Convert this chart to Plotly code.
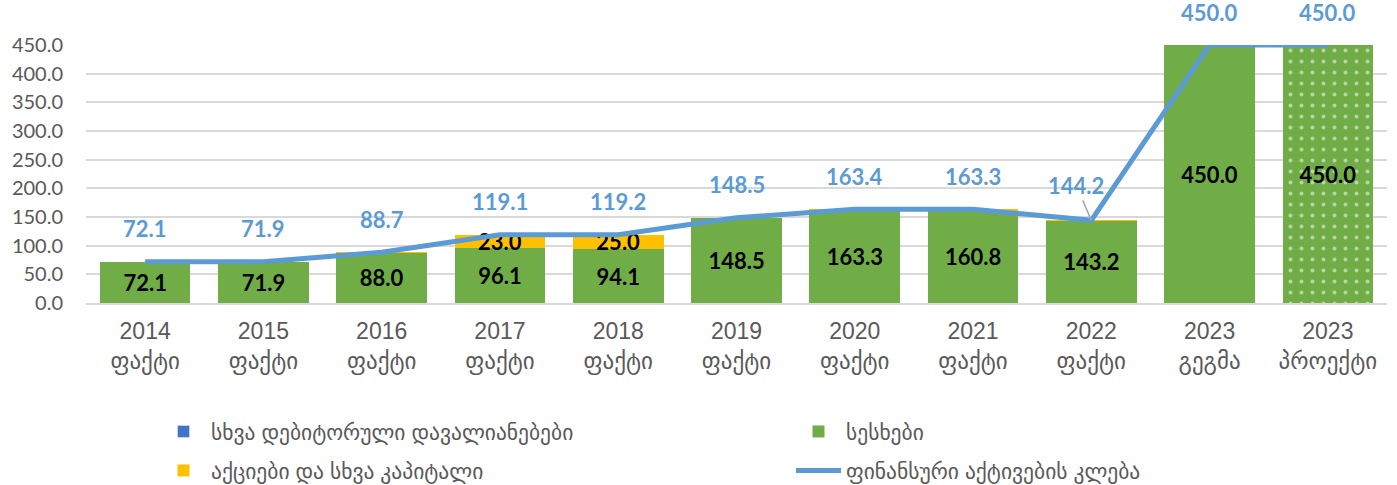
import plotly.graph_objects as go

categories = ["2014<br>ფაქტი", "2015<br>ფაქტი", "2016<br>ფაქტი", "2017<br>ფაქტი", "2018<br>ფაქტი",
              "2019<br>ფაქტი", "2020<br>ფაქტი", "2021<br>ფაქტი", "2022<br>ფაქტი", "2023<br>გეგმა",
              "2023<br>პროექტი"]
other_receivables = [0, 0, 0, 0, 0, 0, 0, 0, 0, 0, 0]
loans = [72.1, 71.9, 88.0, 96.1, 94.1, 148.5, 163.3, 160.8, 143.2, 450.0, 450.0]
shares = [0, 0, 0.7, 23.0, 25.0, 0, 0.1, 2.5, 1.0, 0, 0]
fin_assets_decrease = [72.1, 71.9, 88.7, 119.1, 119.2, 148.5, 163.4, 163.3, 144.2, 450.0, 450.0]

names = ["სხვა დებიტორული დავალიანებები", "სესხები", "აქციები და სხვა კაპიტალი", "ფინანსური აქტივების კლება"]

NUM_FONT = "Lato, Liberation Sans, DejaVu Sans"
GEO_FONT = "Liberation Sans, DejaVu Sans, Noto Sans"

W, H = 1397, 485

pattern_shapes = [""] * (len(categories) - 1) + ["."]

fig = go.Figure()
fig.add_trace(go.Bar(x=categories, y=other_receivables, name=names[0], marker_color="#4472C4",
                     legend="legend", legendgroup="a", hoverinfo="skip"))
fig.add_trace(go.Bar(x=categories, y=loans, name=names[1], legend="legend2", legendgroup="b", marker=dict(
    color="#70AD47", line_width=0,
    pattern=dict(shape=pattern_shapes, fgcolor="white", fillmode="overlay", size=11, solidity=0.1)),
    text=[f"{v:.1f}" for v in loans], textposition="inside", insidetextanchor="middle",
    textangle=0, textfont=dict(family=NUM_FONT, size=22, color="black", weight="bold")))
fig.add_trace(go.Bar(x=categories, y=shares, name=names[2], legend="legend", legendgroup="c",
                     marker=dict(color="#FFC000", line_width=0),
                     text=[f"{v:.1f}" if v >= 5 else "" for v in shares], textposition="inside",
                     insidetextanchor="middle", textangle=0, constraintext="none",
                     textfont=dict(family=NUM_FONT, size=22, color="black", weight="bold")))
fig.add_trace(go.Scatter(x=categories, y=fin_assets_decrease, name=names[3], mode="lines",
                         legend="legend2", legendgroup="d",
                         line=dict(color="#5B9BD5", width=5)))

# line labels
for i, (c, v) in enumerate(zip(categories, fin_assets_decrease)):
    if i == 8:
        fig.add_annotation(x=c, y=v, text=f"{v:.1f}", showarrow=True, arrowhead=0, arrowwidth=1.5,
                           arrowcolor="#A6A6A6", ax=-15, ay=-35, standoff=0,
                           font=dict(family=NUM_FONT, size=22, color="#5B9BD5", weight="bold"))
    else:
        fig.add_annotation(x=c, y=v, text=f"{v:.1f}", showarrow=False, yshift=33,
                           font=dict(family=NUM_FONT, size=22, color="#5B9BD5", weight="bold"))

legend_common = dict(orientation="v", xanchor="left", yanchor="top", xref="container", yref="container",
                     y=1 - 411 / H, traceorder="grouped", tracegroupgap=8, itemwidth=45,
                     font=dict(family=GEO_FONT, size=21.5, color="#595959"), bgcolor="rgba(0,0,0,0)")

fig.update_layout(
    width=W, height=H,
    barmode="stack", bargap=0.233,
    plot_bgcolor="white", paper_bgcolor="white",
    margin=dict(l=86, r=10, t=45, b=182, autoexpand=False),
    legend=dict(legend_common, x=156 / W),
    legend2=dict(legend_common, x=791 / W),
    showlegend=True,
)
fig.update_xaxes(showline=True, linecolor="#D9D9D9", linewidth=1.5, ticks="",
                 tickfont=dict(family=GEO_FONT, size=23, color="#595959"), ticklabelstandoff=7)
fig.update_yaxes(range=[0, 450], dtick=50, tickformat=".1f", showgrid=True, gridcolor="#D9D9D9",
                 gridwidth=1.5, zeroline=False, ticks="", ticklabelstandoff=22,
                 tickfont=dict(family=NUM_FONT, size=20, color="#595959"))
for t in fig.data:
    t.cliponaxis = False

fig.write_html("out.html", config={"displayModeBar": False},
               post_script="document.body.style.margin='0';")
